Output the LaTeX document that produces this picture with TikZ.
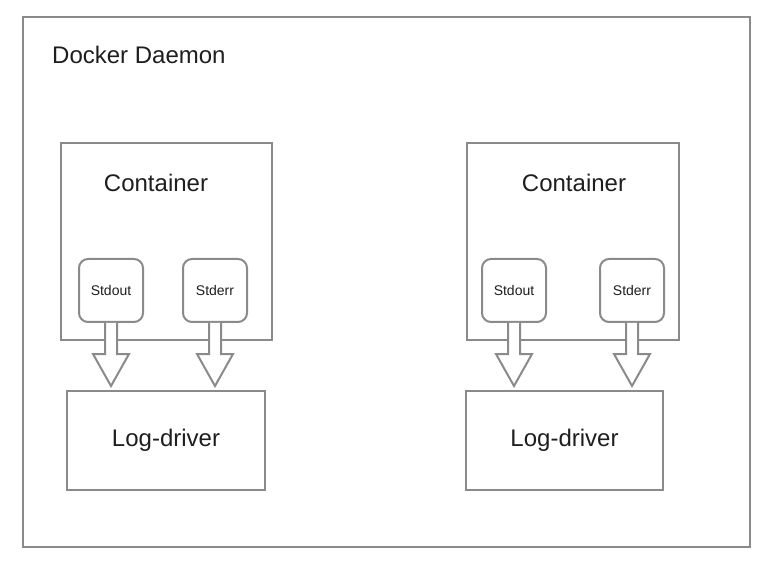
\documentclass[tikz,border=0pt]{standalone}
\usepackage{fontspec}
\setmainfont{Liberation Sans}
\usetikzlibrary{positioning, calc}

\definecolor{edgegray}{HTML}{8A8A8A}
\definecolor{inkgray}{HTML}{1E1E1E}

\tikzset{
  frame/.style={draw=edgegray, line width=2pt, rectangle, inner sep=0pt},
  stream/.style={frame, rounded corners=9pt, minimum width=64pt, minimum height=63pt,
                 font=\fontsize{14}{16}\selectfont, text=inkgray},
  driver/.style={frame, minimum width=198pt, minimum height=99pt,
                 font=\fontsize{24}{28}\selectfont, text=inkgray},
  title/.style={font=\fontsize{24}{28}\selectfont, text=inkgray, inner sep=0pt},
  pipe/.style={draw=edgegray, line width=2pt, fill=white, line join=miter}
}

% hollow block arrow from a stream box down to its driver
\newcommand{\pipeto}[2]{%
  \draw[pipe] let \p1=(#1.south), \p2=(#2.north) in
    (\x1-6pt,\y1) -- (\x1-6pt,\y2+36pt) -- (\x1-18pt,\y2+36pt) -- (\x1,\y2+4pt)
    -- (\x1+18pt,\y2+36pt) -- (\x1+6pt,\y2+36pt) -- (\x1+6pt,\y1);
}

\begin{document}
\begin{tikzpicture}[x=1pt, y=-1pt]
\useasboundingbox (0,0) rectangle (771,569);

\node[frame, minimum width=727pt, minimum height=530pt] (daemon) at (386.5,282) {};
\node[title, anchor=west] (dlabel) at (52,55) {Docker Daemon};

% left container
\node[frame, minimum width=211pt, minimum height=197pt] (c1) at (166.5,241.5) {};
\node[title] (c1label) at (156,183) {Container};
\node[stream] (out1) at (111,290.5) {Stdout};
\node[stream, right=38pt of out1] (err1) {Stderr};
\node[driver] (log1) at (166,440.5) {Log-driver};

% right container
\node[frame, minimum width=212pt, minimum height=197pt] (c2) at (573,241.5) {};
\node[title] (c2label) at (574,183) {Container};
\node[stream] (out2) at (514,290.5) {Stdout};
\node[stream, right=52pt of out2] (err2) {Stderr};
\node[driver, minimum width=197pt] (log2) at (564.5,440.5) {Log-driver};

\pipeto{out1}{log1}
\pipeto{err1}{log1}
\pipeto{out2}{log2}
\pipeto{err2}{log2}

\end{tikzpicture}
\end{document}
